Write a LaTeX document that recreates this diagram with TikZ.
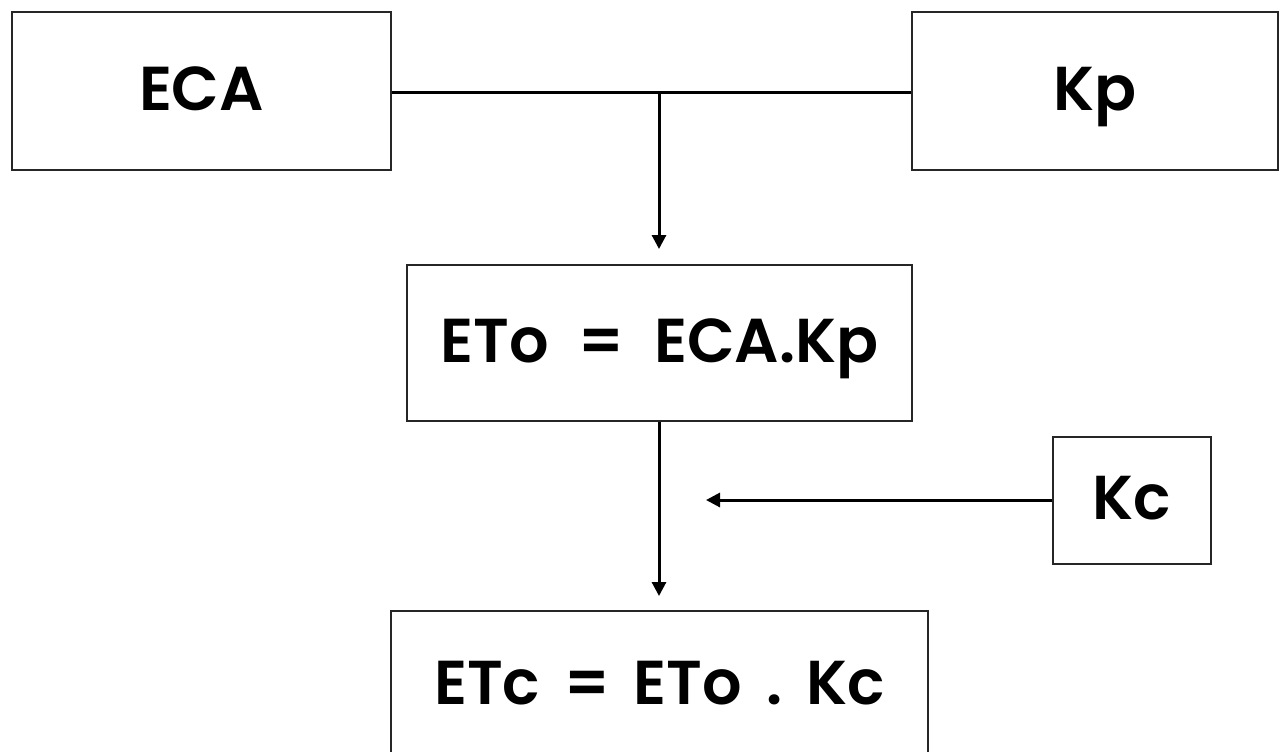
\documentclass[tikz,border=0pt]{standalone}
\usepackage{fontspec}
\setmainfont{Poppins}[BoldFont={* SemiBold}]
\usetikzlibrary{arrows.meta}
\newcommand{\gap}{\hspace{15pt}}
\newcommand{\narrowgap}{\hspace{12pt}}
\begin{document}
\begin{tikzpicture}[x=0.5pt,y=-0.5pt,
  block/.style={draw=black!85, line width=1pt, fill=white, inner sep=0pt,
    text height=25pt, text depth=6pt,
    font=\fontsize{31}{38}\selectfont\bfseries},
  link/.style={line width=1.5pt},
  arr/.style={link, -{Triangle[length=7pt,width=7pt]}}]
\useasboundingbox (0,0) rectangle (1280,751);
\clip (0,0) rectangle (1280,751);
% input blocks
\node[block, minimum width=189.5pt, minimum height=79pt] (eca) at (201.5,91) {ECA};
\node[block, minimum width=183pt, minimum height=79pt] (kp) at (1095,91) {Kp};
% products
\node[block, minimum width=252.5pt, minimum height=78pt] (eto) at (659.5,343) {ETo\gap=\gap ECA.Kp};
\node[block, minimum width=79pt, minimum height=63.5pt] (kc) at (1132,500.5) {Kc};
\node[block, minimum width=268.5pt, minimum height=74pt] (etc) at (659.5,685) {ETc\narrowgap=\narrowgap ETo\narrowgap.\narrowgap Kc};
% connectors
\draw[link] (eca.east |- 0,92) -- (kp.west |- 0,92);
\coordinate (join) at (659,92);
\coordinate (tipA) at (659,249);
\draw[arr] (join) -- (tipA);
\coordinate (tipB) at (659,596);
\draw[arr] (eto.south -| 659,0) -- (tipB);
\coordinate (tipC) at (706,500);
\draw[arr] (kc.west |- 0,500) -- (tipC);
\end{tikzpicture}
\end{document}
